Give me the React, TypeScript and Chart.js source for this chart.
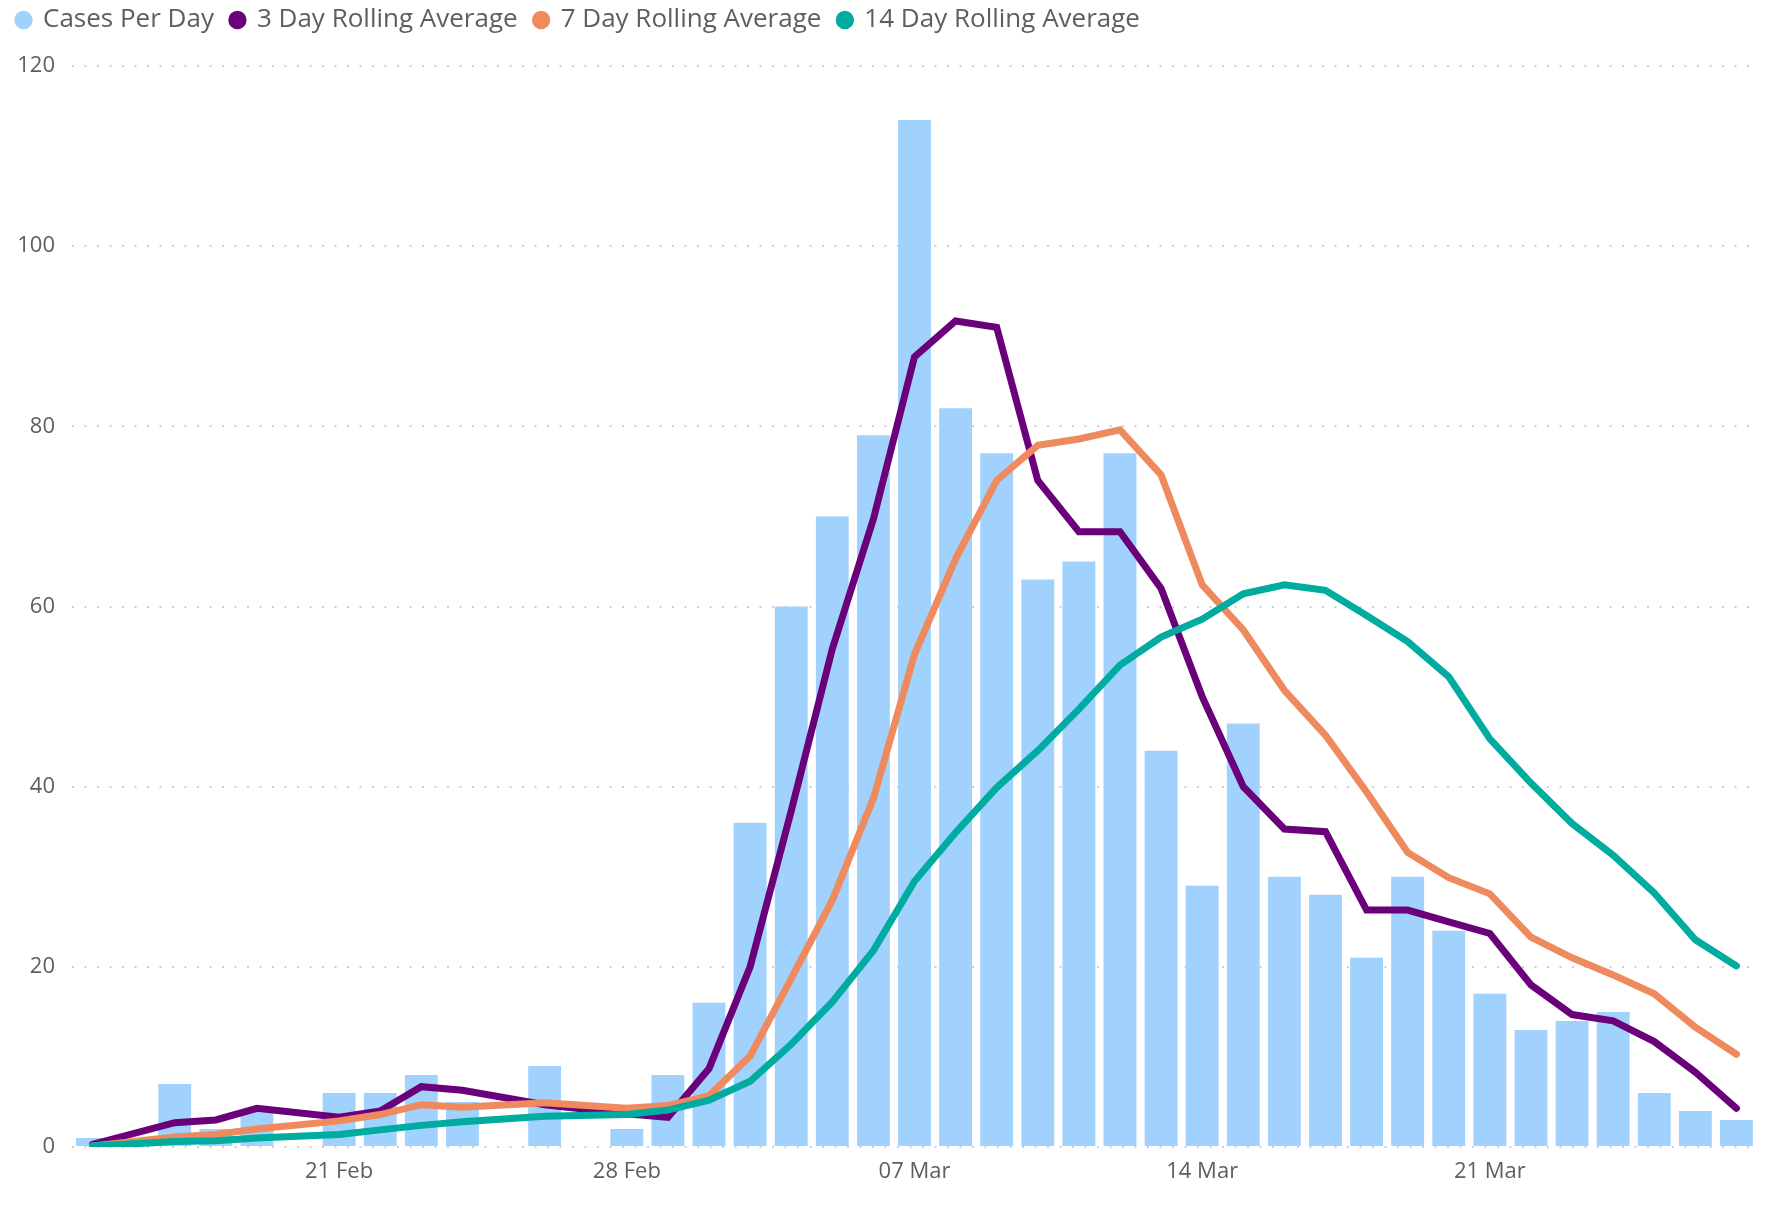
import React, { useEffect, useRef } from "react";
import { Chart, registerables } from "chart.js";

Chart.register(...registerables);

const labels = [
  "15 Feb", "16 Feb", "17 Feb", "18 Feb", "19 Feb", "20 Feb", "21 Feb", "22 Feb",
  "23 Feb", "24 Feb", "25 Feb", "26 Feb", "27 Feb", "28 Feb", "01 Mar", "02 Mar",
  "03 Mar", "04 Mar", "05 Mar", "06 Mar", "07 Mar", "08 Mar", "09 Mar", "10 Mar",
  "11 Mar", "12 Mar", "13 Mar", "14 Mar", "15 Mar", "16 Mar", "17 Mar", "18 Mar",
  "19 Mar", "20 Mar", "21 Mar", "22 Mar", "23 Mar", "24 Mar", "25 Mar", "26 Mar",
  "27 Mar",
];

const xTickLabels = ["21 Feb", "28 Feb", "07 Mar", "14 Mar", "21 Mar"];

const casesPerDay = [
  1, null, 7, 2, 4, null, 6, 6, 8, 5, null, 9, null, 2, 8, 16, 36, 60, 70, 79, 114,
  82, 77, 63, 65, 77, 44, 29, 47, 30, 28, 21, 30, 24, 17, 13, 14, 15, 6, 4, 3,
];

const avg3Day = [
  0.3, null, 2.7, 3.0, 4.3, null, 3.3, 4.0, 6.7, 6.3, null, 4.7, null, 3.7, 3.3, 8.7,
  20.0, 37.3, 55.3, 69.7, 87.7, 91.7, 91.0, 74.0, 68.3, 68.3, 62.0, 50.0, 40.0, 35.3,
  35.0, 26.3, 26.3, 25.0, 23.7, 18.0, 14.7, 14.0, 11.7, 8.3, 4.3,
];

const avg7Day = [
  0.1, null, 1.1, 1.4, 2.0, null, 2.9, 3.6, 4.7, 4.4, null, 4.9, null, 4.3, 4.6, 5.7,
  10.1, 18.7, 27.4, 38.7, 54.7, 65.3, 74.0, 77.9, 78.6, 79.6, 74.6, 62.4, 57.4, 50.7,
  45.7, 39.4, 32.7, 29.9, 28.1, 23.3, 21.0, 19.1, 17.0, 13.3, 10.3,
];

const avg14Day = [
  0.1, null, 0.6, 0.7, 1.0, null, 1.4, 1.9, 2.4, 2.8, null, 3.4, null, 3.6, 4.1, 5.2,
  7.3, 11.4, 16.1, 21.8, 29.5, 34.9, 39.9, 44.0, 48.6, 53.5, 56.6, 58.6, 61.4, 62.4,
  61.8, 59.0, 56.1, 52.2, 45.3, 40.4, 35.9, 32.4, 28.2, 23.0, 20.1,
];

const yTicks = { min: 0, max: 120, step: 20 };

const COLORS = {
  bar: "#A1D1FD",
  avg3: "#6B007B",
  avg7: "#EE8A5E",
  avg14: "#00ABA0",
  text: "#605E5C",
  grid: "#CFCFCF",
};

const FONT = "'Open Sans', 'Noto Sans', sans-serif";

const legendHeightPlugin = {
  id: "legendHeight",
  beforeInit(chart: any) {
    const legend = chart.legend;
    if (!legend) return;
    const origFit = legend.fit;
    legend.fit = function () {
      origFit.call(this);
      this.height = 76;
    };
  },
};

export default function App() {
  const canvasRef = useRef<HTMLCanvasElement | null>(null);

  useEffect(() => {
    document.body.style.margin = "0";
    const canvas = canvasRef.current;
    if (!canvas) return;

    const lineDs = (label: string, data: (number | null)[], color: string, order: number) => ({
      type: "line" as const,
      label,
      data,
      borderColor: color,
      backgroundColor: color,
      borderWidth: 7,
      borderCapStyle: "round" as const,
      borderJoinStyle: "miter" as const,
      pointRadius: 0,
      pointHoverRadius: 0,
      tension: 0,
      spanGaps: true,
      order,
    });

    const chart = new Chart(canvas, {
      type: "bar",
      data: {
        labels,
        datasets: [
          {
            type: "bar",
            label: "Cases Per Day",
            data: casesPerDay,
            backgroundColor: COLORS.bar,
            borderWidth: 0,
            barPercentage: 0.8,
            categoryPercentage: 1,
            order: 4,
          } as any,
          lineDs("3 Day Rolling Average", avg3Day, COLORS.avg3, 3),
          lineDs("7 Day Rolling Average", avg7Day, COLORS.avg7, 2),
          lineDs("14 Day Rolling Average", avg14Day, COLORS.avg14, 1),
        ],
      },
      plugins: [legendHeightPlugin],
      options: {
        animation: false,
        responsive: true,
        maintainAspectRatio: false,
        layout: { padding: { left: 0, right: 33, top: -10, bottom: 0 } },
        plugins: {
          tooltip: { enabled: false },
          legend: {
            display: true,
            position: "top",
            align: "start",
            labels: {
              usePointStyle: true,
              pointStyle: "circle",
              boxWidth: 13,
              boxHeight: 13,
              padding: 17,
              color: COLORS.text,
              font: { family: FONT, size: 26 },
              sort: (a: any, b: any) => a.datasetIndex - b.datasetIndex,
              generateLabels: (ch: any) =>
                (Chart.defaults.plugins.legend.labels.generateLabels as any)(ch).map((l: any) => ({
                  ...l,
                  lineWidth: 0,
                  strokeStyle: "rgba(0,0,0,0)",
                })),
            },
          },
        },
        scales: {
          x: {
            type: "category",
            offset: true,
            grid: { display: false, drawTicks: false },
            border: { display: false },
            afterFit: (scale: any) => {
              scale.height = 59;
            },
            ticks: {
              autoSkip: false,
              maxRotation: 0,
              minRotation: 0,
              padding: 12,
              color: COLORS.text,
              font: { family: FONT, size: 22 },
              callback: (_v: any, index: number) => {
                const l = labels[index];
                return xTickLabels.includes(l) ? l : "";
              },
            },
          },
          y: {
            min: yTicks.min,
            max: yTicks.max,
            afterFit: (scale: any) => {
              scale.width = 72;
            },
            grid: {
              display: true,
              drawTicks: false,
              color: COLORS.grid,
              lineWidth: 2,
            },
            border: { display: false, dash: [2, 10.5] },
            ticks: {
              stepSize: yTicks.step,
              padding: 17,
              color: COLORS.text,
              font: { family: FONT, size: 22 },
            },
          },
        },
      } as any,
    });

    return () => chart.destroy();
  }, []);

  return (
    <div style={{ position: "relative", width: "1790px", height: "1206px" }}>
      <canvas ref={canvasRef} />
    </div>
  );
}
